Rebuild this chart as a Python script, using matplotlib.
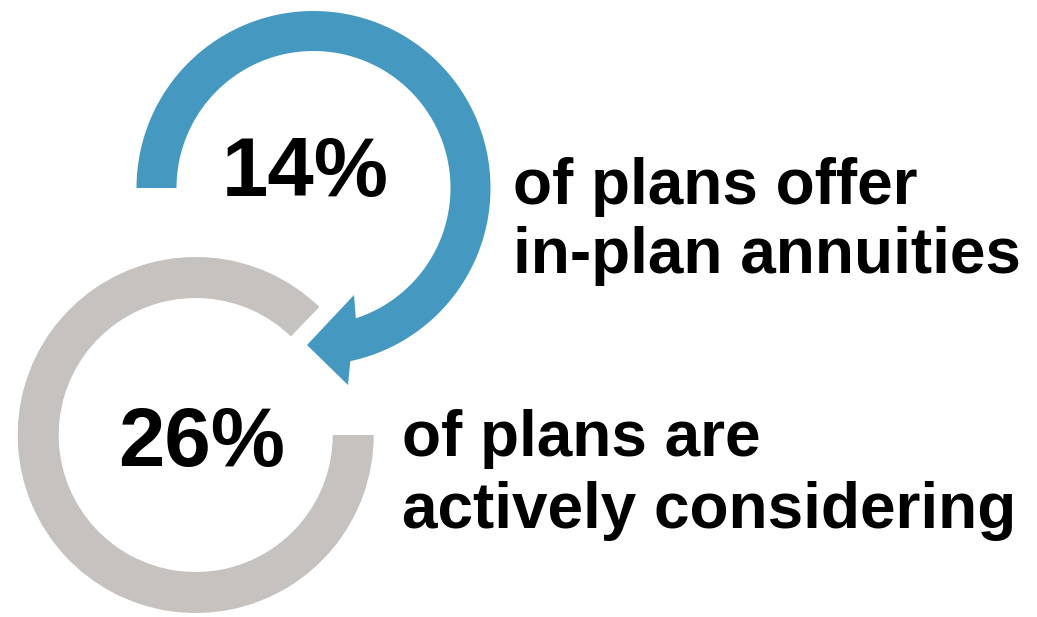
import numpy as np
import matplotlib
matplotlib.use("Agg")
import matplotlib.pyplot as plt
from matplotlib.patches import Wedge, Polygon

plt.rcParams['font.family'] = ['Liberation Sans', 'DejaVu Sans']

# shares of plans
pcts = [14, 26]
captions = [["of plans offer", "in-plan annuities"],
            ["of plans are", "actively considering"]]
ring_colors = ["#4599C1", "#C5C2BF"]

W, H = 1037, 617
fig = plt.figure(figsize=(W / 100, H / 100), dpi=100)
ax = fig.add_axes([0, 0, 1, 1])
ax.set_xlim(0, W)
ax.set_ylim(0, H)
ax.axis('off')

r_out, r_in = 177, 137

# blue curved arrow: arc from the left, over the top, down to the head
cx, cy = 313.5, 429
t_out = np.radians(np.linspace(180, -78, 200))
t_in = np.radians(np.linspace(-72, 180, 200))
outer = np.column_stack([cx + r_out * np.cos(t_out), cy + r_out * np.sin(t_out)])
inner = np.column_stack([cx + r_in * np.cos(t_in), cy + r_in * np.sin(t_in)])
head = np.array([[348, 232], [307, 272], [354, 322]])
ax.add_patch(Polygon(np.vstack([outer, head, inner]), closed=True,
                     facecolor=ring_colors[0], edgecolor='none'))

# gray open ring
gx, gy = 195.7, 182
ax.add_patch(Wedge((gx, gy), 178, 46, 360, width=41,
                   facecolor=ring_colors[1], edgecolor='none'))

ax.text(305, H - 196, f"{pcts[0]}%", fontsize=60, fontweight='bold',
        ha='center', va='baseline')
ax.text(201.5, H - 466, f"{pcts[1]}%", fontsize=60, fontweight='bold',
        ha='center', va='baseline')

# two-line captions, one baseline per line
for (x, baselines), lines in zip([(513, [204, 273]), (402, [456, 528])], captions):
    for y, line in zip(baselines, lines):
        ax.text(x, H - y, line, fontsize=46, fontweight='bold',
                ha='left', va='baseline')

fig.savefig("out.png", dpi=100)
